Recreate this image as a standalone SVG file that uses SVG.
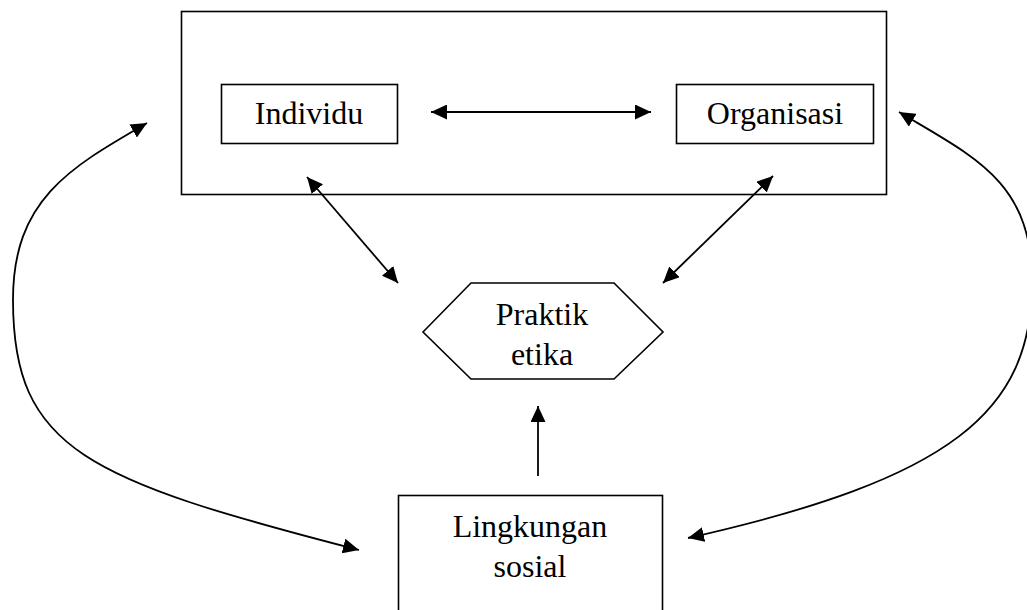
<svg xmlns="http://www.w3.org/2000/svg" width="1027" height="610" viewBox="0 0 1027 610">
<defs>
<marker id="ah" viewBox="0 0 16 15" refX="16" refY="7.5" markerWidth="16" markerHeight="15" markerUnits="userSpaceOnUse" orient="auto-start-reverse">
<path d="M0,0 L16,7.5 L0,15 z" fill="#000"/>
</marker>
<style>
.box{fill:#fff;stroke:#000;stroke-width:1.6}
.lbl{font-family:"Liberation Serif","Times New Roman",serif;font-size:32px;fill:#000;text-anchor:middle}
.con{fill:none;stroke:#000;stroke-width:1.8}
</style>
</defs>
<rect width="1027" height="610" fill="#fff"/>
<g id="outer"><rect class="box" x="181.5" y="11.5" width="705" height="183"/></g>
<g id="individu"><rect class="box" x="221.5" y="84.5" width="176" height="59"/><text class="lbl" x="309" y="124">Individu</text></g>
<g id="organisasi"><rect class="box" x="676.5" y="84.5" width="197" height="59"/><text class="lbl" x="775" y="124">Organisasi</text></g>
<g id="praktik"><polygon class="box" points="423,332 471,283 614,283 663,332 614,379 471,379"/><text class="lbl" x="542" y="325">Praktik</text><text class="lbl" x="542" y="365">etika</text></g>
<g id="lingkungan"><rect class="box" x="398.5" y="495.5" width="264" height="130"/><text class="lbl" x="530" y="537">Lingkungan</text><text class="lbl" x="530" y="577">sosial</text></g>
<g id="connectors">
<line class="con" x1="431" y1="112" x2="651" y2="112" marker-start="url(#ah)" marker-end="url(#ah)"/>
<line class="con" x1="307" y1="177" x2="398" y2="283" marker-start="url(#ah)" marker-end="url(#ah)"/>
<line class="con" x1="773" y1="176" x2="663" y2="283" marker-start="url(#ah)" marker-end="url(#ah)"/>
<line class="con" x1="538" y1="476" x2="538" y2="406" marker-end="url(#ah)"/>
<path class="con" d="M147,123 C69,168 13,200 13,300 C13,450 88,480 359,550" marker-start="url(#ah)" marker-end="url(#ah)"/>
<path class="con" d="M899,112 C976,158 1032,182 1032,282 C1032,412 951,479 688,538" marker-start="url(#ah)" marker-end="url(#ah)"/>
</g>
</svg>
